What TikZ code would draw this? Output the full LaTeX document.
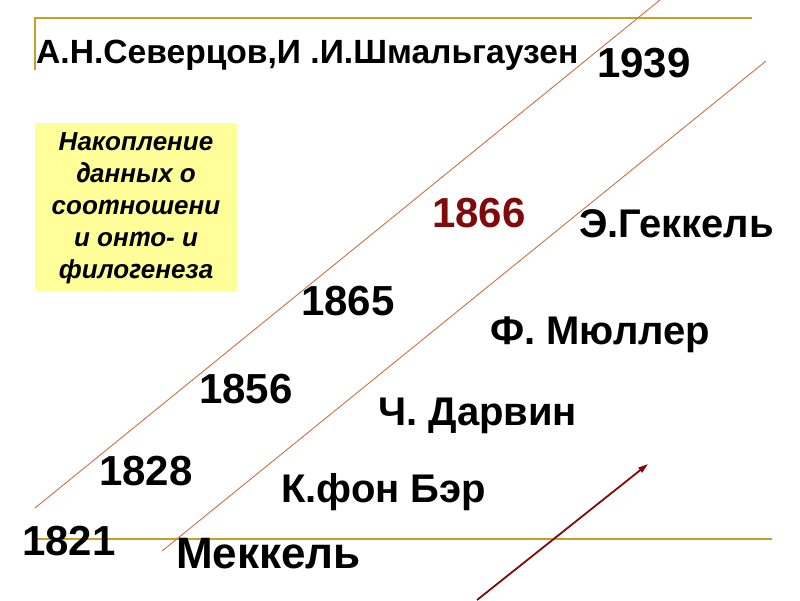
\documentclass[tikz,border=0pt]{standalone}
\usepackage{fontspec}
\setmainfont{Liberation Sans}
\newfontfamily\ptsansalt[Scale=1.08]{PT Sans}
\newcommand\italt[1]{{\ptsansalt\bfseries\itshape #1}}
\usetikzlibrary{arrows.meta}
\definecolor{goldline}{RGB}{200,160,40}
\definecolor{diagline}{RGB}{195,115,75}
\definecolor{darkred}{RGB}{128,10,10}
\definecolor{boxyellow}{RGB}{255,255,153}
\tikzset{
  lbl/.style={anchor=base west, inner sep=0pt, font=\bfseries\fontsize{42}{50}\selectfont},
  namelbl/.style={anchor=base west, inner sep=0pt, font=\bfseries\fontsize{40}{48}\selectfont},
  goldrule/.style={draw=goldline, line width=2pt},
  diag/.style={draw=diagline, line width=0.9pt},
  redarrow/.style={draw=darkred, line width=1.8pt, -{Triangle[length=10pt,width=6pt]}},
}
\begin{document}
\begin{tikzpicture}[x=1pt,y=-1pt]
\useasboundingbox (0,0) rectangle (800,600);
% rules
\coordinate (t0) at (35,70);
\coordinate (t1) at (35,18);
\coordinate (t2) at (752,18);
\coordinate (b1) at (35,539);
\coordinate (b2) at (772,539);
\draw[goldrule] (t0) -- (t1) -- (t2);
\draw[goldrule] (b1) -- (b2);
% diagonals
\coordinate (d1a) at (35,508);
\coordinate (d1b) at (660,0);
\coordinate (d2a) at (162,551);
\coordinate (d2b) at (766,61);
\draw[diag] (d1a) -- (d1b);
\draw[diag] (d2a) -- (d2b);
% box
\node[fill=boxyellow, minimum width=202pt, minimum height=168pt, inner sep=0pt] (box) at (136,207) {};
\node[font=\bfseries\itshape\fontsize{26}{32}\selectfont, align=center, inner sep=0pt] (boxtext) at (136,208)
  {Накопление\\\italt{д}анных о\\соо\italt{т}ношени\\и он\italt{т}о- и\\фило\italt{г}енеза};
% texts
\node[anchor=base west, inner sep=0pt, font=\bfseries\fontsize{33.6}{38}\selectfont] (sev) at (36,63) {А.Н.Северцов,И .И.Шмальгаузен};
\node[lbl] (y1939) at (597,77) {1939};
\node[lbl, text=darkred] (y1866) at (432,227) {1866};
\node[namelbl] (haeckel) at (579,237) {Э.Геккель};
\node[lbl] (y1865) at (301,315) {1865};
\node[namelbl] (muller) at (490,344) {Ф. Мюллер};
\node[lbl] (y1856) at (199,403) {1856};
\node[namelbl] (darwin) at (378,425) {Ч. Дарвин};
\node[lbl] (y1828) at (99,485) {1828};
\node[namelbl] (baer) at (281,502) {К.фон Бэр};
\node[lbl] (y1821) at (22,555) {1821};
\node[namelbl, font=\bfseries\fontsize{44}{50}\selectfont] (meckel) at (176,568) {Меккель};
% arrow
\coordinate (ra) at (477,600);
\coordinate (rb) at (648,464);
\draw[redarrow] (ra) -- (rb);
\end{tikzpicture}
\end{document}
